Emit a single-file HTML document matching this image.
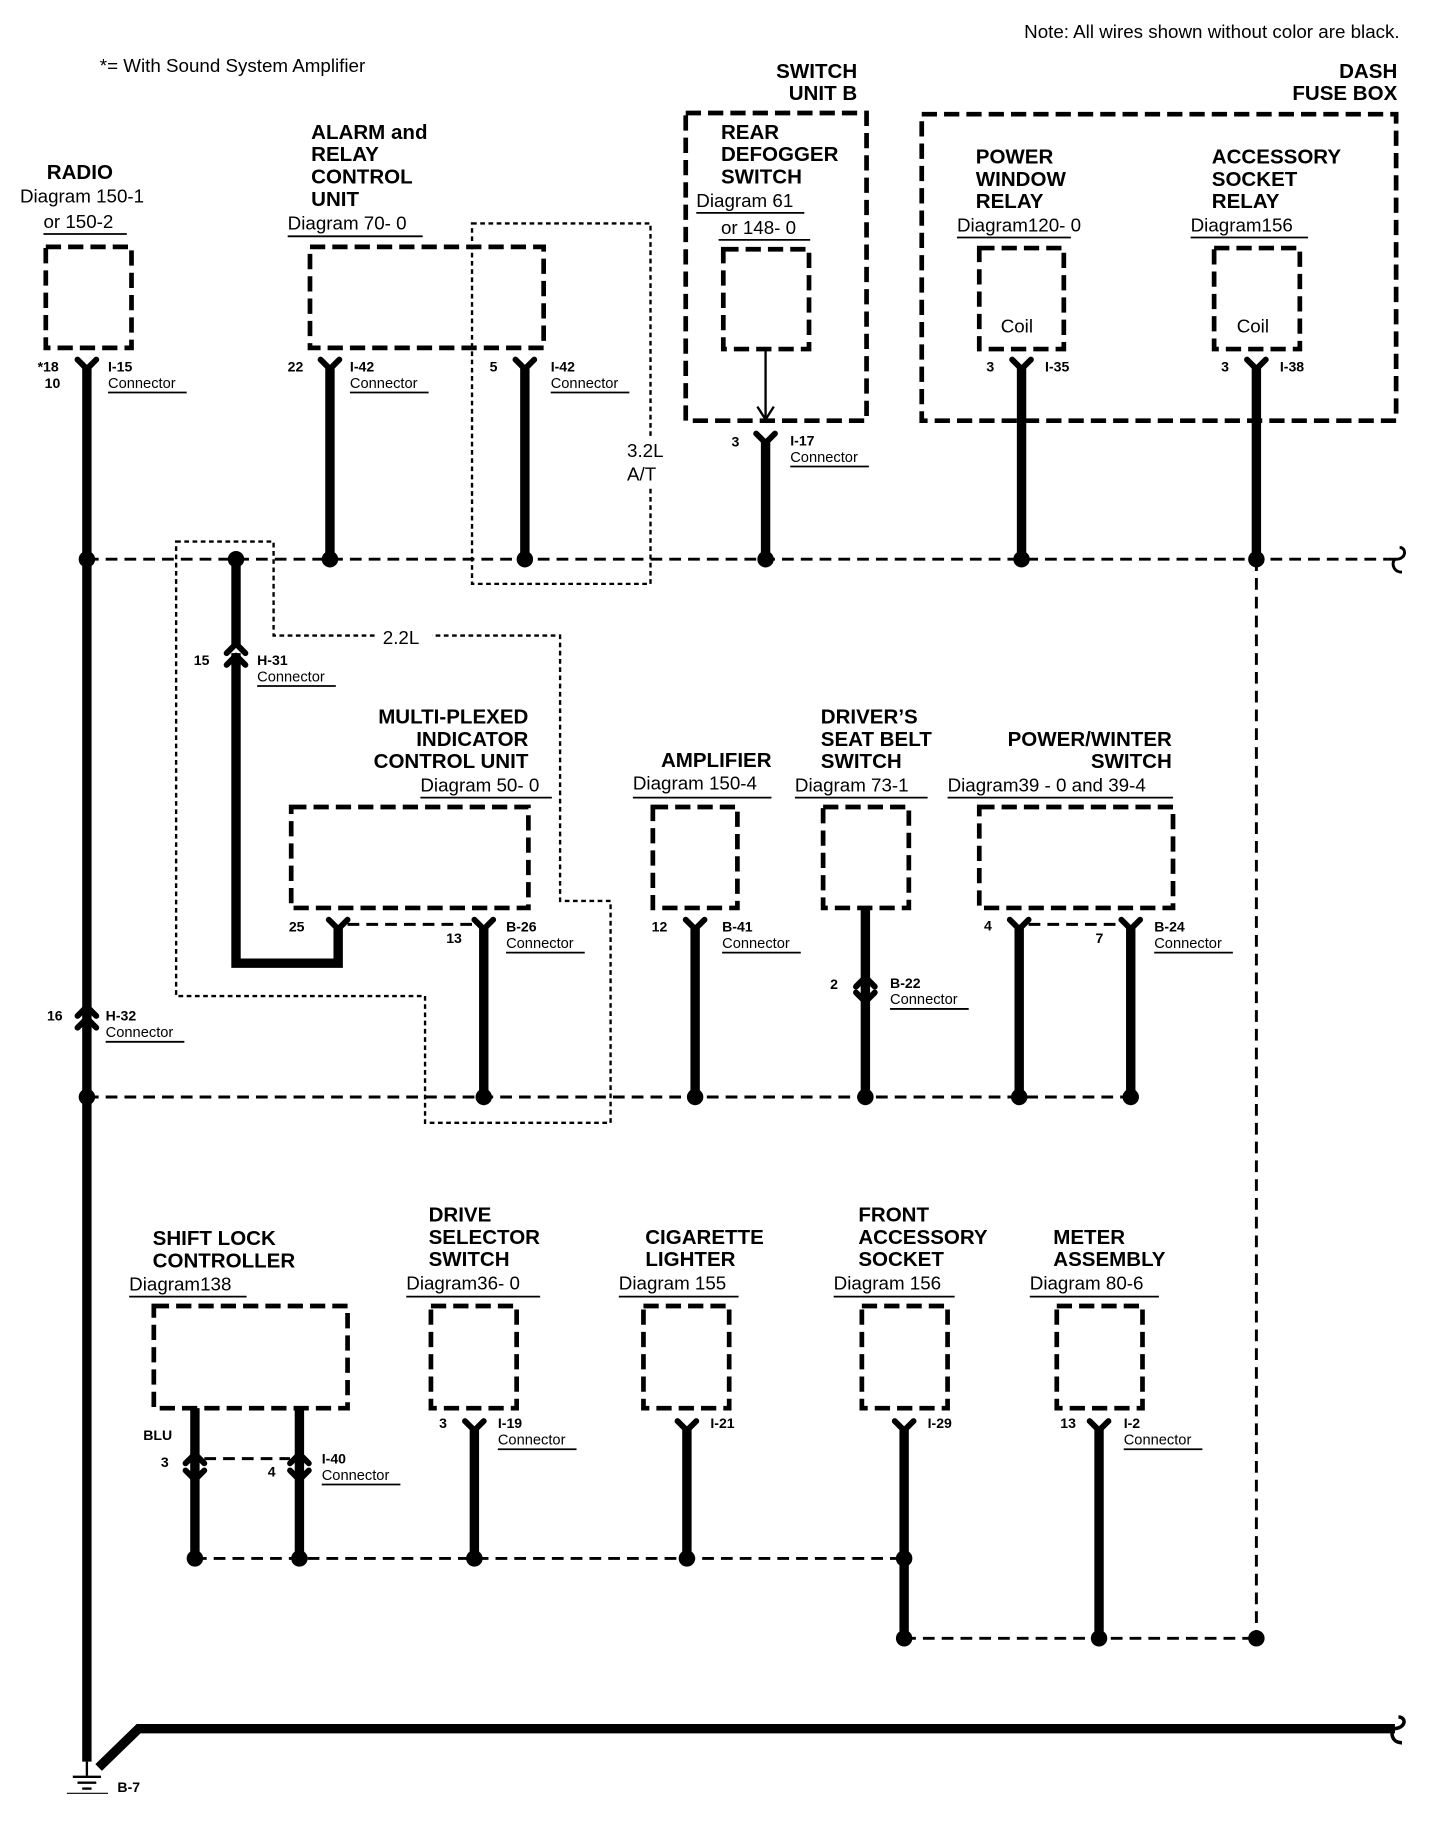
<!DOCTYPE html>
<html><head><meta charset="utf-8"><style>
html,body{margin:0;padding:0;background:#fff}
svg{display:block}
text{font-family:"Liberation Sans",Arial,sans-serif;fill:#000}
.t{font-weight:bold;font-size:17.5px}
.d{font-size:16px}
.c{font-size:12px;font-weight:bold}
.cn{font-size:12.5px}
.box{fill:none;stroke:#000;stroke-width:4;stroke-dasharray:13,6}
.dot{fill:none;stroke:#000;stroke-width:2;stroke-dasharray:4,3}
.w{stroke:#000;stroke-width:8;fill:none}
.dl{stroke:#000;stroke-width:2.5;stroke-dasharray:10,6;fill:none}
.ul{stroke:#000;stroke-width:1.5}
.ch{stroke:#000;stroke-width:5;fill:none;stroke-linecap:round;stroke-linejoin:round}
</style></head><body>
<svg width="1456" height="1830" viewBox="0 0 1240 1558" xmlns="http://www.w3.org/2000/svg">
<text x="1192" y="32" class="d" text-anchor="end">Note: All wires shown without color are black.</text>
<text x="85" y="61" class="d">*= With Sound System Amplifier</text>

<!-- RADIO -->
<text x="68" y="152" class="t" text-anchor="middle">RADIO</text>
<text x="17" y="172" class="d">Diagram 150-1</text>
<text x="37" y="194" class="d">or 150-2</text>
<line x1="37" y1="199" x2="108" y2="199" class="ul"/>
<rect x="39" y="210" width="73" height="86" class="box"/>
<!-- ALARM -->
<text x="265" y="118" class="t">ALARM and</text>
<text x="265" y="137" class="t">RELAY</text>
<text x="265" y="156" class="t">CONTROL</text>
<text x="265" y="175" class="t">UNIT</text>
<text x="245" y="195" class="d">Diagram 70- 0</text>
<line x1="245" y1="201" x2="360" y2="201" class="ul"/>
<rect x="264" y="210" width="199" height="86" class="box"/>
<rect x="402" y="190" width="152" height="307" class="dot"/>
<rect x="532" y="372" width="40" height="42" fill="#fff"/>
<text x="534" y="389" class="d">3.2L</text>
<text x="534" y="409" class="d">A/T</text>
<!-- SWITCH UNIT B -->
<text x="730" y="66" class="t" text-anchor="end">SWITCH</text>
<text x="730" y="85" class="t" text-anchor="end">UNIT B</text>
<rect x="584" y="96" width="154" height="262" class="box"/>
<text x="614" y="118" class="t">REAR</text>
<text x="614" y="137" class="t">DEFOGGER</text>
<text x="614" y="156" class="t">SWITCH</text>
<text x="593" y="176" class="d">Diagram 61</text>
<line x1="593" y1="181" x2="685" y2="181" class="ul"/>
<text x="614" y="199" class="d">or 148- 0</text>
<line x1="612" y1="204" x2="690" y2="204" class="ul"/>
<rect x="616" y="212" width="73" height="85" class="box"/>
<line x1="652" y1="297" x2="652" y2="356" stroke="#000" stroke-width="2"/>
<path d="M645,346 L652,357 L659,346" fill="none" stroke="#000" stroke-width="2"/>
<!-- DASH FUSE BOX -->
<text x="1190" y="66" class="t" text-anchor="end">DASH</text>
<text x="1190" y="85" class="t" text-anchor="end">FUSE BOX</text>
<rect x="785" y="97" width="404" height="261" class="box"/>
<text x="831" y="139" class="t">POWER</text>
<text x="831" y="158" class="t">WINDOW</text>
<text x="831" y="177" class="t">RELAY</text>
<text x="815" y="197" class="d">Diagram120- 0</text>
<line x1="815" y1="202" x2="912" y2="202" class="ul"/>
<rect x="834" y="211" width="72" height="86" class="box"/>
<text x="866" y="283" class="d" text-anchor="middle" font-size="17">Coil</text>
<text x="1032" y="139" class="t">ACCESSORY</text>
<text x="1032" y="158" class="t">SOCKET</text>
<text x="1032" y="177" class="t">RELAY</text>
<text x="1014" y="197" class="d">Diagram156</text>
<line x1="1014" y1="202" x2="1114" y2="202" class="ul"/>
<rect x="1034" y="211" width="73" height="86" class="box"/>
<text x="1067" y="283" class="d" text-anchor="middle" font-size="17">Coil</text>

<!-- top connectors / wires -->
<g>
<path d="M66,306 L74,314 L82,306" class="ch"/><line x1="74" y1="312" x2="74" y2="1500" class="w"/>
<text x="32" y="316" class="c">*18</text><text x="38" y="330" class="c">10</text>
<text x="92" y="316" class="c">I-15</text><text x="92" y="330" class="cn">Connector</text><line x1="92" y1="334" x2="159" y2="334" class="ul"/>

<path d="M273,306 L281,314 L289,306" class="ch"/><line x1="281" y1="312" x2="281" y2="476" class="w"/>
<text x="245" y="316" class="c">22</text>
<text x="298" y="316" class="c">I-42</text><text x="298" y="330" class="cn">Connector</text><line x1="298" y1="334" x2="365" y2="334" class="ul"/>

<path d="M439,306 L447,314 L455,306" class="ch"/><line x1="447" y1="312" x2="447" y2="476" class="w"/>
<text x="417" y="316" class="c">5</text>
<text x="469" y="316" class="c">I-42</text><text x="469" y="330" class="cn">Connector</text><line x1="469" y1="334" x2="536" y2="334" class="ul"/>

<path d="M644,369 L652,377 L660,369" class="ch"/><line x1="652" y1="375" x2="652" y2="476" class="w"/>
<text x="623" y="380" class="c">3</text>
<text x="673" y="379" class="c">I-17</text><text x="673" y="393" class="cn">Connector</text><line x1="673" y1="397" x2="740" y2="397" class="ul"/>

<path d="M862,306 L870,314 L878,306" class="ch"/><line x1="870" y1="312" x2="870" y2="476" class="w"/>
<text x="840" y="316" class="c">3</text><text x="890" y="316" class="c">I-35</text>
<path d="M1062,306 L1070,314 L1078,306" class="ch"/><line x1="1070" y1="312" x2="1070" y2="476" class="w"/>
<text x="1040" y="316" class="c">3</text><text x="1090" y="316" class="c">I-38</text>
</g>

<line x1="74" y1="476" x2="1182" y2="476" class="dl"/>
<path d="M1182,476 L1189,476 C1198,476 1198,466 1192,466 M1189,476 C1185,476 1185,487 1194,487" fill="none" stroke="#000" stroke-width="2.5"/>
<line x1="1070" y1="476" x2="1070" y2="1395" class="dl" stroke-dasharray="8,5"/>

<!-- 2.2L region -->
<path d="M150,461 L233,461 L233,541 L477,541 L477,767 L520,767 L520,956 L362,956 L362,848 L150,848 Z" class="dot"/>
<rect x="320" y="532" width="48" height="20" fill="#fff"/>
<text x="326" y="548" class="d">2.2L</text>

<!-- H-31 wire -->
<path d="M201,476 L201,820 L288,820 L288,790" class="w" stroke-linejoin="miter"/>
<path d="M193,556 L201,548 L209,556" class="ch" style="fill:#fff"/>
<path d="M193,566 L201,558 L209,566" class="ch"/>
<text x="165" y="566" class="c">15</text>
<text x="219" y="566" class="c">H-31</text><text x="219" y="580" class="cn">Connector</text><line x1="219" y1="584" x2="286" y2="584" class="ul"/>

<!-- MULTI-PLEXED -->
<text x="450" y="616" class="t" text-anchor="end">MULTI-PLEXED</text>
<text x="450" y="635" class="t" text-anchor="end">INDICATOR</text>
<text x="450" y="654" class="t" text-anchor="end">CONTROL UNIT</text>
<text x="358" y="674" class="d">Diagram 50- 0</text>
<line x1="358" y1="679" x2="470" y2="679" class="ul"/>
<rect x="248" y="687" width="202" height="86" class="box"/>
<path d="M280,783 L288,791 L296,783" class="ch"/>
<line x1="296" y1="787" x2="404" y2="787" class="dl" stroke-width="2" stroke-dasharray="6,4"/>
<path d="M404,783 L412,791 L420,783" class="ch"/><line x1="412" y1="789" x2="412" y2="934" class="w"/>
<text x="246" y="793" class="c">25</text><text x="380" y="803" class="c">13</text>
<text x="431" y="793" class="c">B-26</text><text x="431" y="807" class="cn">Connector</text><line x1="431" y1="811" x2="498" y2="811" class="ul"/>

<!-- AMPLIFIER -->
<text x="610" y="653" class="t" text-anchor="middle">AMPLIFIER</text>
<text x="539" y="672" class="d">Diagram 150-4</text>
<line x1="539" y1="679" x2="657" y2="679" class="ul"/>
<rect x="556" y="687" width="72" height="86" class="box"/>
<path d="M584,783 L592,791 L600,783" class="ch"/><line x1="592" y1="789" x2="592" y2="934" class="w"/>
<text x="555" y="793" class="c">12</text>
<text x="615" y="793" class="c">B-41</text><text x="615" y="807" class="cn">Connector</text><line x1="615" y1="811" x2="682" y2="811" class="ul"/>

<!-- DRIVER'S -->
<text x="699" y="616" class="t">DRIVER’S</text>
<text x="699" y="635" class="t">SEAT BELT</text>
<text x="699" y="654" class="t">SWITCH</text>
<text x="677" y="674" class="d">Diagram 73-1</text>
<line x1="677" y1="679" x2="790" y2="679" class="ul"/>
<rect x="701" y="687" width="73" height="86" class="box"/>
<line x1="737" y1="773" x2="737" y2="934" class="w"/>
<path d="M729,840 L737,832 L745,840" class="ch"/>
<path d="M729,840 L737,848 L745,840" class="ch" transform="translate(0,5)"/>
<text x="707" y="842" class="c">2</text>
<text x="758" y="841" class="c">B-22</text><text x="758" y="855" class="cn">Connector</text><line x1="758" y1="859" x2="825" y2="859" class="ul"/>

<!-- POWER/WINTER -->
<text x="998" y="635" class="t" text-anchor="end">POWER/WINTER</text>
<text x="998" y="654" class="t" text-anchor="end">SWITCH</text>
<text x="807" y="674" class="d">Diagram39 - 0 and 39-4</text>
<line x1="807" y1="679" x2="999" y2="679" class="ul"/>
<rect x="834" y="687" width="165" height="86" class="box"/>
<path d="M860,783 L868,791 L876,783" class="ch"/><line x1="868" y1="789" x2="868" y2="934" class="w"/>
<line x1="876" y1="787" x2="955" y2="787" class="dl" stroke-width="2" stroke-dasharray="6,4"/>
<path d="M955,783 L963,791 L971,783" class="ch"/><line x1="963" y1="789" x2="963" y2="934" class="w"/>
<text x="838" y="792" class="c">4</text><text x="933" y="803" class="c">7</text>
<text x="983" y="793" class="c">B-24</text><text x="983" y="807" class="cn">Connector</text><line x1="983" y1="811" x2="1050" y2="811" class="ul"/>

<!-- H-32 -->
<path d="M66,865 L74,857 L82,865" class="ch"/>
<path d="M66,875 L74,867 L82,875" class="ch"/>
<text x="40" y="869" class="c">16</text>
<text x="90" y="869" class="c">H-32</text><text x="90" y="883" class="cn">Connector</text><line x1="90" y1="887" x2="157" y2="887" class="ul"/>

<line x1="74" y1="934" x2="963" y2="934" class="dl"/>

<!-- bottom row -->
<text x="130" y="1060" class="t">SHIFT LOCK</text>
<text x="130" y="1079" class="t">CONTROLLER</text>
<text x="110" y="1099" class="d">Diagram138</text>
<line x1="110" y1="1104" x2="210" y2="1104" class="ul"/>
<rect x="131" y="1112" width="165" height="87" class="box"/>
<line x1="166" y1="1199" x2="166" y2="1327" class="w"/>
<line x1="255" y1="1199" x2="255" y2="1327" class="w"/>
<path d="M158,1246 L166,1238 L174,1246" class="ch"/><path d="M158,1252 L166,1260 L174,1252" class="ch"/>
<path d="M247,1246 L255,1238 L263,1246" class="ch"/><path d="M247,1252 L255,1260 L263,1252" class="ch"/>
<line x1="174" y1="1242" x2="247" y2="1242" class="dl" stroke-width="2" stroke-dasharray="6,4"/>
<text x="122" y="1226" class="c">BLU</text>
<text x="137" y="1249" class="c">3</text><text x="228" y="1257" class="c">4</text>
<text x="274" y="1246" class="c">I-40</text><text x="274" y="1260" class="cn">Connector</text><line x1="274" y1="1264" x2="341" y2="1264" class="ul"/>

<text x="365" y="1040" class="t">DRIVE</text>
<text x="365" y="1059" class="t">SELECTOR</text>
<text x="365" y="1078" class="t">SWITCH</text>
<text x="346" y="1098" class="d">Diagram36- 0</text>
<line x1="346" y1="1104" x2="460" y2="1104" class="ul"/>
<rect x="367" y="1112" width="73" height="87" class="box"/>
<path d="M396,1210 L404,1218 L412,1210" class="ch"/><line x1="404" y1="1216" x2="404" y2="1327" class="w"/>
<text x="374" y="1216" class="c">3</text>
<text x="424" y="1216" class="c">I-19</text><text x="424" y="1230" class="cn">Connector</text><line x1="424" y1="1234" x2="491" y2="1234" class="ul"/>

<text x="600" y="1059" class="t" text-anchor="middle">CIGARETTE</text>
<text x="588" y="1078" class="t" text-anchor="middle">LIGHTER</text>
<text x="527" y="1098" class="d">Diagram 155</text>
<line x1="527" y1="1104" x2="629" y2="1104" class="ul"/>
<rect x="548" y="1112" width="73" height="87" class="box"/>
<path d="M577,1210 L585,1218 L593,1210" class="ch"/><line x1="585" y1="1216" x2="585" y2="1327" class="w"/>
<text x="605" y="1216" class="c">I-21</text>

<text x="731" y="1040" class="t">FRONT</text>
<text x="731" y="1059" class="t">ACCESSORY</text>
<text x="731" y="1078" class="t">SOCKET</text>
<text x="710" y="1098" class="d">Diagram 156</text>
<line x1="710" y1="1104" x2="813" y2="1104" class="ul"/>
<rect x="734" y="1112" width="73" height="87" class="box"/>
<path d="M762,1210 L770,1218 L778,1210" class="ch"/><line x1="770" y1="1216" x2="770" y2="1395" class="w"/>
<text x="790" y="1216" class="c">I-29</text>

<text x="897" y="1059" class="t">METER</text>
<text x="897" y="1078" class="t">ASSEMBLY</text>
<text x="877" y="1098" class="d">Diagram 80-6</text>
<line x1="877" y1="1104" x2="987" y2="1104" class="ul"/>
<rect x="900" y="1112" width="73" height="87" class="box"/>
<path d="M928,1210 L936,1218 L944,1210" class="ch"/><line x1="936" y1="1216" x2="936" y2="1395" class="w"/>
<text x="903" y="1216" class="c">13</text>
<text x="957" y="1216" class="c">I-2</text><text x="957" y="1230" class="cn">Connector</text><line x1="957" y1="1234" x2="1024" y2="1234" class="ul"/>

<line x1="166" y1="1327" x2="770" y2="1327" class="dl" stroke-width="2" stroke-dasharray="12,4,3,4"/>
<line x1="770" y1="1395" x2="1070" y2="1395" class="dl"/>

<!-- ground -->
<path d="M84,1505 L118,1472 L1188,1472" class="w" stroke-linejoin="miter"/>
<path d="M1186,1472 C1198,1472 1198,1462 1191,1462 M1188,1472 C1184,1472 1184,1484 1194,1484" fill="none" stroke="#000" stroke-width="3"/>
<line x1="74" y1="1500" x2="74" y2="1512" stroke="#000" stroke-width="2"/>
<line x1="62" y1="1513" x2="86" y2="1513" stroke="#000" stroke-width="2"/>
<line x1="66" y1="1518" x2="82" y2="1518" stroke="#000" stroke-width="2"/>
<line x1="70" y1="1523" x2="78" y2="1523" stroke="#000" stroke-width="2"/>
<line x1="57" y1="1527" x2="92" y2="1527" stroke="#000" stroke-width="1"/>
<text x="100" y="1526" class="c">B-7</text>

<!-- dots -->
<g fill="#000">
<circle cx="74" cy="476" r="7"/><circle cx="201" cy="476" r="7"/><circle cx="281" cy="476" r="7"/><circle cx="447" cy="476" r="7"/><circle cx="652" cy="476" r="7"/><circle cx="870" cy="476" r="7"/><circle cx="1070" cy="476" r="7"/>
<circle cx="74" cy="934" r="7"/><circle cx="412" cy="934" r="7"/><circle cx="592" cy="934" r="7"/><circle cx="737" cy="934" r="7"/><circle cx="868" cy="934" r="7"/><circle cx="963" cy="934" r="7"/>
<circle cx="166" cy="1327" r="7"/><circle cx="255" cy="1327" r="7"/><circle cx="404" cy="1327" r="7"/><circle cx="585" cy="1327" r="7"/><circle cx="770" cy="1327" r="7"/>
<circle cx="770" cy="1395" r="7"/><circle cx="936" cy="1395" r="7"/><circle cx="1070" cy="1395" r="7"/>
</g>
</svg>
</body></html>
